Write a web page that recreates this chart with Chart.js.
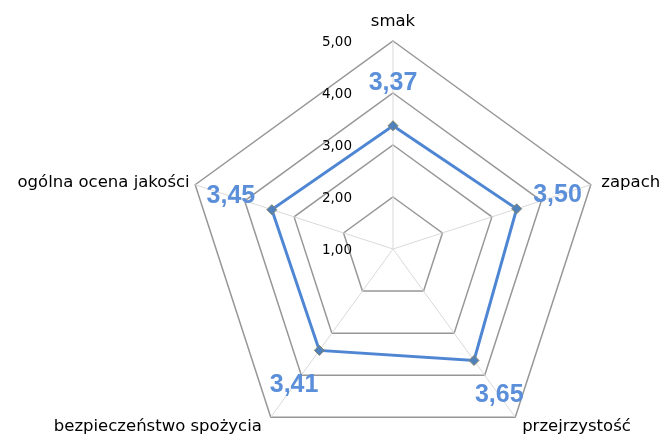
<!DOCTYPE html>
<html>
<head>
<meta charset="utf-8">
<script src="https://cdn.jsdelivr.net/npm/chart.js@4"></script>
<style>
  html, body { margin: 0; padding: 0; background: #fff; }
  #wrap { width: 660px; height: 435px; }
</style>
</head>
<body>
<div id="wrap"><canvas id="radar" width="660" height="435"></canvas></div>
<script>
// kategorie i oceny
const categories = ["smak", "zapach", "przejrzystość", "bezpieczeństwo spożycia", "ogólna ocena jakości"];
const scores = [3.37, 3.50, 3.65, 3.41, 3.45];
const tickValues = [1, 2, 3, 4, 5];

const fmt = (v) => v.toFixed(2).replace(".", ",");

// etykiety osi, wartości i podziałki rysowane ręcznie
const labelsPlugin = {
  id: "labelsPlugin",
  afterDatasetsDraw(chart) {
    const ctx = chart.ctx;
    const scale = chart.scales.r;
    ctx.save();

    // podziałka po lewej stronie osi "smak"
    ctx.font = "13.5px 'DejaVu Sans'";
    ctx.fillStyle = "#000";
    ctx.textAlign = "right";
    ctx.textBaseline = "middle";
    tickValues.forEach((t) => {
      const d = scale.getDistanceFromCenterForValue(t);
      ctx.fillText(fmt(t), scale.xCenter - 41, scale.yCenter - d + 1);
    });

    // nazwy kategorii
    ctx.font = "16.5px 'DejaVu Sans'";
    categories.forEach((c, i) => {
      const p = scale.getPointPosition(i, scale.drawingArea + 10);
      const dx = p.x - scale.xCenter;
      const dy = p.y - scale.yCenter;
      if (Math.abs(dx) < 5) {
        ctx.textAlign = "center";
        ctx.textBaseline = "bottom";
        ctx.fillText(c, p.x, p.y - 1);
      } else if (dx > 0) {
        ctx.textAlign = "left";
        ctx.textBaseline = "middle";
        ctx.fillText(c, p.x + 1, p.y + 1);
      } else {
        ctx.textAlign = "right";
        ctx.textBaseline = "middle";
        ctx.fillText(c, p.x + (dy > 0 ? -3 : 4), p.y + 1);
      }
    });

    // wartości
    ctx.font = "bold 25px 'Liberation Sans'";
    ctx.fillStyle = "#5b8fd9";
    ctx.textAlign = "center";
    ctx.textBaseline = "middle";
    scores.forEach((v, i) => {
      const p = scale.getPointPosition(i, scale.getDistanceFromCenterForValue(v) + 43);
      ctx.fillText(fmt(v), p.x, p.y);
    });
    ctx.restore();
  }
};

new Chart(document.getElementById("radar"), {
  type: "radar",
  data: {
    labels: categories,
    datasets: [{
      data: scores,
      borderColor: "#4f86d3",
      borderWidth: 3,
      fill: false,
      pointStyle: "rectRot",
      pointRadius: 5,
      pointBackgroundColor: "#4f81bd",
      pointBorderColor: "#85856a",
      pointBorderWidth: 1
    }]
  },
  options: {
    responsive: false,
    animation: false,
    plugins: { legend: { display: false }, tooltip: { enabled: false } },
    scales: {
      r: {
        min: 1,
        max: 5,
        ticks: { display: false, stepSize: 1 },
        pointLabels: { display: false },
        grid: { color: "#979797", lineWidth: 1.5 },
        angleLines: { color: "#d9d9d9", lineWidth: 1 },
        afterFit: (scale) => {
          scale.xCenter = 393;
          scale.yCenter = 249;
          scale.drawingArea = 208;
        }
      }
    }
  },
  plugins: [labelsPlugin]
});
</script>
</body>
</html>
